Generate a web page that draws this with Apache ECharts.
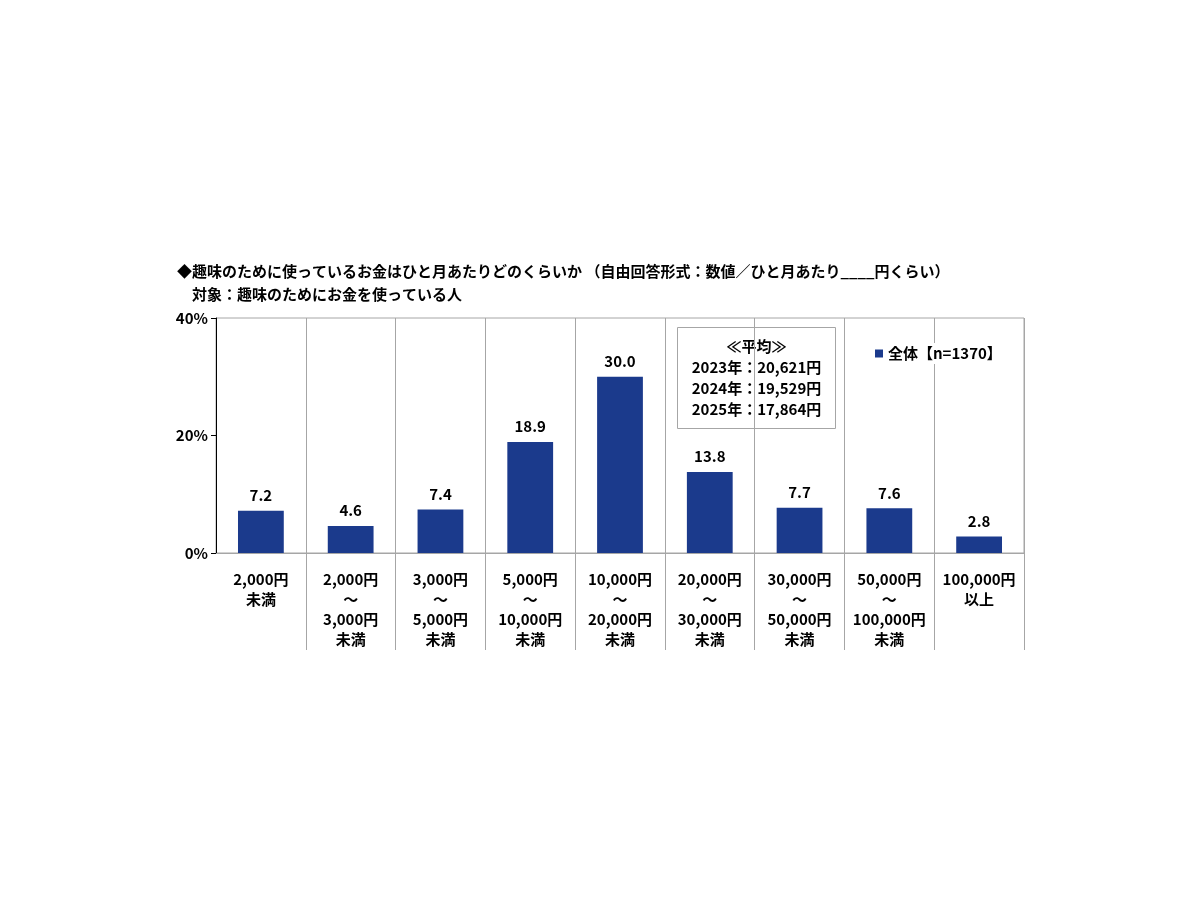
<!DOCTYPE html>
<html><head><meta charset="utf-8">
<script src="https://cdn.jsdelivr.net/npm/echarts@6/dist/echarts.min.js"></script>
<style>html,body{margin:0;padding:0;background:#fff}#c{width:1200px;height:900px}</style>
</head><body><div id="c"></div>
<script>
var categories = ['2,000円\n未満','2,000円\n～\n3,000円\n未満','3,000円\n～\n5,000円\n未満','5,000円\n～\n10,000円\n未満','10,000円\n～\n20,000円\n未満','20,000円\n～\n30,000円\n未満','30,000円\n～\n50,000円\n未満','50,000円\n～\n100,000円\n未満','100,000円\n以上'];
var values = [7.2,4.6,7.4,18.9,30.0,13.8,7.7,7.6,2.8];
var seriesName = '全体【n=1370】';
var yTicks = [0,20,40];
var titleLines = ['◆趣味のために使っているお金はひと月あたりどのくらいか （自由回答形式：数値／ひと月あたり____円くらい）','　対象：趣味のためにお金を使っている人'];
var avgLines = ['≪平均≫','2023年：20,621円','2024年：19,529円','2025年：17,864円'];
var F = '"Noto Sans CJK JP","Noto Sans",sans-serif';
var chart = echarts.init(document.getElementById('c'));
chart.setOption({
  backgroundColor:'#fff',
  animation:false,
  title:{text:titleLines.join('\n'),left:172,top:255,textStyle:{fontFamily:F,fontSize:15,fontWeight:'bold',color:'#000',lineHeight:23}},
  legend:{data:[seriesName],left:872,top:343,itemWidth:8,itemHeight:8,itemGap:4,icon:'rect',backgroundColor:'#fff',padding:[3,3],
    textStyle:{fontFamily:F,fontSize:15,fontWeight:'bold',color:'#000'}},
  grid:{left:216,right:176,top:318,bottom:347,show:true,borderColor:'#a6a6a6',borderWidth:1,backgroundColor:'transparent'},
  xAxis:[{type:'category',data:categories,
    axisLine:{lineStyle:{color:'#a6a6a6'}},
    axisTick:{show:true,length:97,lineStyle:{color:'#a6a6a6'},interval:function(i){return i>0;}},
    splitLine:{show:true,lineStyle:{color:'#a6a6a6'}},
    axisLabel:{interval:0,margin:16,fontFamily:F,fontSize:15,fontWeight:'bold',color:'#000',lineHeight:20,verticalAlign:'top'}}],
  yAxis:{type:'value',min:0,max:40,interval:20,
    axisLine:{show:true,lineStyle:{color:'#000'}},
    axisTick:{show:true,length:5,lineStyle:{color:'#000'}},
    splitLine:{show:false},
    axisLabel:{formatter:'{value}%',fontFamily:F,fontSize:15,fontWeight:'bold',color:'#000',margin:8}},
  graphic:[{type:'group',left:677,top:327,children:[
    {type:'rect',shape:{x:0,y:0,width:158,height:101},style:{fill:'#fff',stroke:'#a6a6a6',lineWidth:1}},
    {type:'text',x:79,y:8,style:{text:avgLines.join('\n'),textAlign:'center',fill:'#000',font:'bold 15px '+F,lineHeight:21}}
  ]}],
  series:[{name:seriesName,type:'bar',data:values,barWidth:'51%',itemStyle:{color:'#1B3A8C'},z:3,
    label:{show:true,position:'top',distance:8,formatter:function(p){return p.value.toFixed(1);},fontFamily:F,fontSize:15,fontWeight:'bold',color:'#000'}}]
});
</script></body></html>
